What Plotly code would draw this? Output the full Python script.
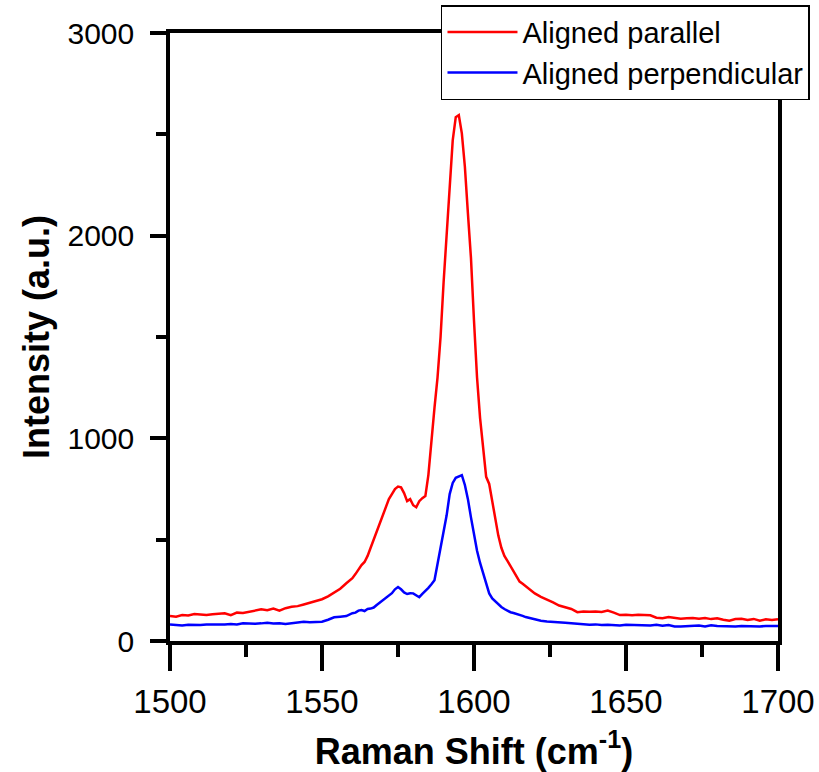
import plotly.graph_objects as go

raman_shift = [
    1500, 1502, 1504, 1506, 1508, 1510, 1512, 1514, 1516, 1518, 1520, 1522, 1524, 1526, 1528,
    1530, 1532, 1534, 1536, 1538, 1540, 1542, 1544, 1546, 1548, 1550, 1552, 1554, 1556, 1558, 1560,
    1561, 1562, 1563, 1564, 1565, 1566, 1567, 1568, 1569, 1570, 1571, 1572, 1573, 1574, 1575,
    1576, 1577, 1578, 1579, 1580, 1581, 1582, 1583, 1584, 1585, 1586, 1587, 1588, 1589, 1590,
    1591, 1592, 1593, 1594, 1595, 1596, 1597, 1598, 1599, 1600, 1601, 1602, 1603, 1604, 1605,
    1606, 1607, 1608, 1609, 1610, 1611, 1612, 1613, 1614, 1615, 1616, 1617, 1618, 1619, 1620,
    1622, 1624, 1626, 1628, 1630, 1632, 1634, 1636, 1638, 1640, 1642, 1644, 1646, 1648, 1650,
    1652, 1654, 1656, 1658, 1660, 1662, 1664, 1666, 1668, 1670, 1672, 1674, 1676, 1678, 1680,
    1682, 1684, 1686, 1688, 1690, 1692, 1694, 1696, 1698, 1700,
]

aligned_parallel = [
    123, 120, 128, 126, 133, 130, 128, 132, 135, 137, 127, 140, 138, 143, 150,
    156, 152, 160, 150, 162, 169, 172, 180, 188, 196, 206, 220, 238, 258, 285, 310,
    330, 355, 375, 390, 420, 460, 500, 531, 580, 620, 650, 700, 725, 750, 762,
    758, 730, 690, 700, 670, 660, 690, 705, 715, 820, 1000, 1150, 1300, 1500, 1770,
    2010, 2240, 2470, 2585, 2595, 2505, 2340, 2110, 1890, 1580, 1300, 1100, 950, 810, 775,
    690, 590, 520, 460, 420, 395, 370, 340, 315, 293, 282, 270, 256, 243, 235,
    218, 202, 190, 175, 168, 158, 142, 145, 144, 146, 143, 150, 140, 128, 130,
    127, 129, 128, 127, 115, 112, 118, 113, 110, 112, 114, 110, 113, 108, 112,
    105, 100, 108, 110, 104, 109, 100, 107, 104, 107,
]

aligned_perpendicular = [
    82, 78, 76, 80, 79, 79, 81, 80, 82, 81, 84, 82, 88, 86, 85,
    87, 90, 86, 88, 84, 87, 92, 95, 93, 94, 95, 105, 117, 120, 123, 137,
    140, 150, 153, 148, 158, 160, 165, 178, 190, 200, 211, 225, 236, 255, 266,
    255, 240, 232, 236, 235, 225, 216, 232, 245, 262, 280, 300, 380, 460, 530,
    620, 725, 780, 805, 812, 818, 770, 700, 610, 520, 445, 385, 335, 280, 235,
    210, 195, 180, 168, 158, 148, 142, 138, 134, 128, 124, 118, 114, 112, 106,
    100, 96, 93, 92, 90, 88, 86, 84, 80, 82, 79, 80, 78, 76, 80,
    79, 81, 78, 77, 80, 75, 79, 72, 71, 73, 74, 76, 72, 78, 74,
    73, 75, 72, 74, 73, 75, 72, 74, 73, 74,
]

series_names = ["Aligned parallel", "Aligned perpendicular"]
x_ticks = [1500, 1550, 1600, 1650, 1700]
y_ticks = [0, 1000, 2000, 3000]

FONT = "Liberation Sans, Arial, sans-serif"

fig = go.Figure()
fig.add_trace(go.Scatter(x=raman_shift, y=aligned_parallel, mode="lines",
                         name=series_names[0], line=dict(color="#FF0000", width=2.5)))
fig.add_trace(go.Scatter(x=raman_shift, y=aligned_perpendicular, mode="lines",
                         name=series_names[1], line=dict(color="#0000FF", width=2.5)))

fig.update_layout(
    width=819, height=772,
    margin=dict(l=170, r=41, t=33, b=131, autoexpand=False),
    plot_bgcolor="white", paper_bgcolor="white",
    font=dict(family=FONT, color="black", size=28),
    showlegend=True,
    legend=dict(
        x=1.0526, y=1.046, xanchor="right", yanchor="top",
        bgcolor="white", bordercolor="black", borderwidth=1.5,
        font=dict(size=29, family=FONT),
        itemwidth=70, tracegroupgap=0,
    ),
    xaxis=dict(
        range=[1500, 1700], tickvals=x_ticks, ticktext=[str(v) for v in x_ticks],
        showgrid=False, zeroline=False, automargin=False,
        showline=True, linecolor="black", linewidth=3.5, mirror=True,
        ticks="outside", ticklen=26, tickwidth=3.5, tickcolor="black",
        minor=dict(ticks="outside", ticklen=12, tickwidth=3.5, tickcolor="black", dtick=25),
        tickfont=dict(size=33, family=FONT), ticklabelstandoff=3,
        title=dict(text="<b>Raman Shift (cm<sup>-1</sup>)</b>", font=dict(size=36, family=FONT), standoff=20),
    ),
    yaxis=dict(
        range=[0, 3000], tickvals=y_ticks, ticktext=[str(v) for v in y_ticks],
        showgrid=False, zeroline=False, automargin=False,
        showline=True, linecolor="black", linewidth=3.5, mirror=True,
        ticks="outside", ticklen=16, tickwidth=3.5, tickcolor="black",
        minor=dict(ticks="outside", ticklen=10, tickwidth=3.5, tickcolor="black", dtick=500),
        tickfont=dict(size=30, family=FONT), ticklabelstandoff=10,
        title=dict(text="<b>Intensity (a.u.)</b>", font=dict(size=36, family=FONT), standoff=8),
    ),
)

fig.write_html("out.html", config={"displayModeBar": False},
               post_script="document.body.style.margin='0';")
